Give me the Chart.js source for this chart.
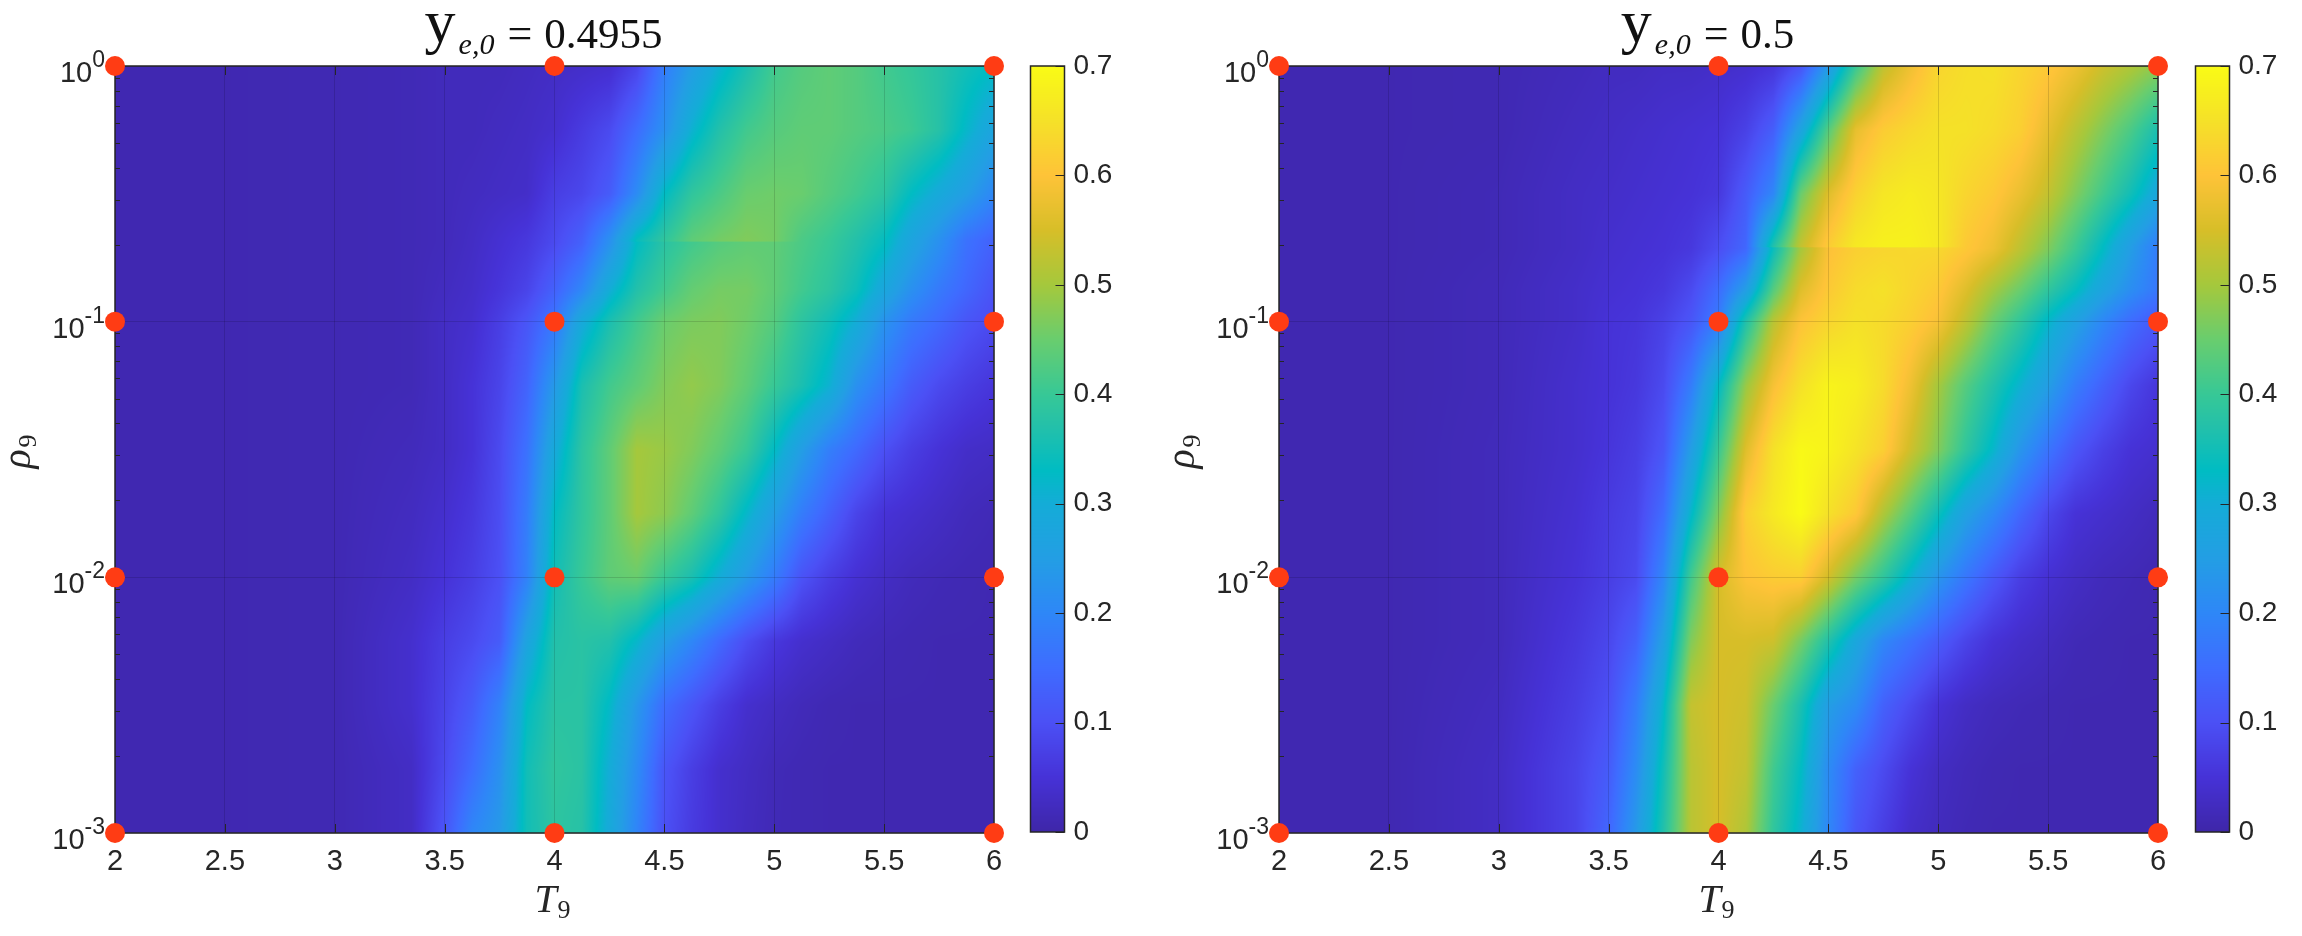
<!DOCTYPE html>
<html>
<head>
<meta charset="utf-8">
<title>T9 rho9 maps</title>
<script src="https://cdn.jsdelivr.net/npm/chart.js@4"></script>
<style>
  html, body { margin: 0; padding: 0; background: #fff; }
  canvas { position: absolute; top: 0; }
</style>
</head>
<body>
<canvas id="map-a" width="1020" height="936" style="left:0"></canvas>
<canvas id="bar-a" width="130" height="936" style="left:1020px"></canvas>
<canvas id="map-b" width="1030" height="936" style="left:1160px"></canvas>
<canvas id="bar-b" width="112" height="936" style="left:2190px"></canvas>
<script>
// Grid the maps were read on: T9 columns, log10(rho9) rows (bottom to top)
const tempCols = [2, 2.5, 3, 3.35, 3.5, 3.625, 3.75, 3.875, 4, 4.125, 4.25, 4.375, 4.5, 4.625, 4.75, 4.875, 5, 5.125, 5.25, 5.375, 5.5, 5.625, 5.75, 5.875, 6];
const logRhoRowsA = [-3, -2.75, -2.5, -2.25, -2, -1.75, -1.5, -1.25, -1, -0.875, -0.69, -0.684, -0.5, -0.25, 0];
const logRhoRowsB = [-3, -2.75, -2.5, -2.25, -2, -1.75, -1.5, -1.25, -1, -0.875, -0.712, -0.706, -0.5, -0.25, 0];

const heatA = [
  [.01,.01,.012,.03,.11,.2,.24,.35,.385,.375,.29,.195,.1,.065,.04,.025,.015,.012,.01,.01,.01,.01,.01,.01,.01],
  [.01,.01,.012,.03,.09,.15,.22,.35,.39,.38,.3,.21,.11,.07,.04,.028,.016,.012,.01,.01,.01,.01,.01,.01,.01],
  [.01,.01,.012,.04,.08,.12,.19,.33,.38,.38,.325,.235,.15,.11,.07,.04,.028,.018,.012,.01,.01,.01,.01,.01,.01],
  [.01,.01,.012,.04,.07,.09,.12,.27,.37,.38,.37,.32,.25,.2,.145,.095,.06,.04,.03,.02,.015,.012,.01,.01,.01],
  [.01,.01,.012,.03,.05,.07,.1,.19,.35,.4,.44,.45,.4,.36,.3,.24,.18,.105,.07,.045,.03,.02,.015,.012,.01],
  [.01,.01,.012,.025,.04,.06,.095,.18,.33,.39,.44,.5,.48,.44,.39,.32,.25,.18,.13,.08,.05,.04,.03,.02,.015],
  [.01,.01,.012,.02,.03,.05,.09,.16,.29,.385,.44,.5,.49,.47,.44,.4,.33,.25,.185,.145,.1,.07,.05,.035,.03],
  [.01,.01,.012,.015,.03,.05,.08,.135,.24,.36,.41,.44,.47,.485,.47,.44,.4,.36,.31,.22,.17,.12,.09,.07,.055],
  [.01,.01,.012,.015,.03,.04,.07,.11,.17,.29,.36,.41,.45,.465,.47,.455,.43,.385,.35,.3,.225,.175,.145,.11,.09],
  [.01,.01,.012,.015,.025,.035,.055,.08,.13,.2,.3,.37,.41,.445,.46,.46,.44,.41,.385,.345,.28,.22,.175,.14,.105],
  [.01,.01,.012,.015,.02,.03,.045,.06,.09,.13,.22,.33,.38,.41,.43,.44,.44,.42,.4,.37,.335,.27,.22,.16,.13],
  [.01,.01,.012,.015,.02,.03,.045,.06,.09,.13,.22,.34,.39,.44,.46,.47,.46,.42,.4,.37,.335,.27,.22,.16,.13],
  [.01,.01,.012,.015,.02,.025,.03,.035,.07,.085,.12,.21,.33,.39,.42,.45,.455,.45,.43,.41,.385,.33,.29,.25,.2],
  [.01,.01,.012,.015,.02,.02,.025,.03,.04,.065,.09,.15,.22,.31,.37,.41,.43,.44,.44,.43,.42,.405,.375,.32,.27],
  [.01,.01,.012,.015,.02,.02,.02,.025,.03,.035,.04,.08,.18,.25,.31,.36,.41,.43,.44,.43,.41,.395,.375,.35,.33]
];

const heatB = [
  [.01,.01,.03,.08,.14,.24,.37,.52,.55,.51,.39,.31,.2,.11,.07,.035,.022,.014,.01,.01,.01,.01,.01,.01,.01],
  [.01,.01,.03,.08,.12,.21,.35,.52,.55,.53,.41,.33,.21,.13,.09,.05,.028,.018,.012,.01,.01,.01,.01,.01,.01],
  [.01,.01,.025,.07,.1,.18,.32,.53,.55,.54,.45,.36,.25,.21,.13,.09,.05,.03,.02,.015,.012,.01,.01,.01,.01],
  [.01,.01,.02,.06,.085,.13,.26,.47,.55,.55,.54,.46,.37,.28,.2,.16,.12,.08,.05,.035,.025,.015,.012,.01,.01],
  [.01,.01,.02,.05,.07,.09,.2,.41,.55,.6,.615,.62,.545,.46,.39,.31,.23,.17,.115,.07,.045,.03,.02,.015,.01],
  [.01,.01,.02,.045,.065,.08,.15,.32,.47,.62,.665,.7,.65,.61,.51,.43,.345,.26,.205,.14,.085,.05,.04,.03,.02],
  [.01,.01,.02,.04,.055,.07,.11,.25,.4,.56,.65,.695,.685,.655,.62,.54,.47,.39,.32,.23,.165,.11,.075,.05,.04],
  [.01,.01,.018,.04,.05,.06,.09,.18,.33,.49,.59,.65,.685,.675,.64,.58,.5,.43,.37,.31,.25,.18,.13,.085,.055],
  [.01,.01,.018,.035,.05,.055,.075,.11,.18,.37,.52,.6,.63,.65,.64,.62,.59,.525,.45,.39,.32,.26,.2,.15,.115],
  [.01,.01,.018,.035,.045,.05,.06,.09,.15,.25,.43,.56,.61,.64,.65,.63,.61,.56,.5,.45,.39,.335,.27,.215,.17],
  [.01,.01,.015,.03,.04,.045,.05,.06,.095,.14,.34,.5,.595,.62,.63,.635,.635,.61,.58,.525,.47,.405,.33,.25,.18],
  [.01,.01,.015,.03,.04,.045,.05,.06,.095,.14,.37,.53,.615,.665,.68,.68,.665,.61,.58,.525,.47,.405,.33,.25,.18],
  [.01,.01,.015,.03,.035,.04,.045,.05,.06,.12,.2,.45,.56,.625,.66,.67,.66,.63,.61,.575,.53,.47,.41,.35,.28],
  [.01,.01,.012,.025,.03,.035,.04,.045,.05,.075,.125,.27,.43,.57,.615,.635,.65,.65,.64,.62,.57,.52,.47,.42,.36],
  [.01,.01,.012,.02,.025,.025,.03,.03,.035,.04,.055,.105,.24,.4,.525,.58,.63,.645,.65,.63,.61,.58,.54,.51,.48]
];

// Red markers
const markerTemps = [2, 4, 6];
const markerRhos = [1, 0.1, 0.01, 0.001];

// Tick labels
const xTickValues = [2, 2.5, 3, 3.5, 4, 4.5, 5, 5.5, 6];
const yMajorExponents = [-3, -2, -1, 0];
const barTickValues = [0, 0.1, 0.2, 0.3, 0.4, 0.5, 0.6, 0.7];

// parula
const cmapStops = [0, .05, .1, .15, .2, .25, .3, .33, .37, .4, .45, .5, .55, .6, .65, .7];
const cmapColors = [
  [62, 38, 168], [70, 50, 215], [75, 80, 245], [62, 108, 255], [46, 135, 247], [35, 158, 228],
  [20, 172, 215], [0, 188, 195], [35, 192, 170], [55, 200, 150], [105, 205, 110], [165, 200, 60],
  [215, 190, 40], [254, 195, 56], [245, 225, 40], [249, 251, 21]
];

const INK = '#262626';
const SANS = '"Liberation Sans", Arial, sans-serif';
const SERIF = '"Liberation Serif", "DejaVu Serif", serif';

function lookup(list, v) {
  let i = 0;
  while (i < list.length - 2 && v > list[i + 1]) i++;
  const t = Math.max(0, Math.min(1, (v - list[i]) / (list[i + 1] - list[i])));
  return [i, t];
}

function colorFor(v) {
  const [i, t] = lookup(cmapStops, v);
  return [0, 1, 2].map(k => cmapColors[i][k] + (cmapColors[i + 1][k] - cmapColors[i][k]) * t);
}

function heatValue(grid, rows, temp, logRho) {
  const [c, tc] = lookup(tempCols, temp);
  const [r, tr] = lookup(rows, logRho);
  const low = grid[r][c] * (1 - tc) + grid[r][c + 1] * tc;
  const high = grid[r + 1][c] * (1 - tc) + grid[r + 1][c + 1] * tc;
  return low * (1 - tr) + high * tr;
}

// Paints the map under the grid lines, going through the chart's own scales
const heatPlugin = {
  id: 'heat',
  beforeDraw(chart, args, opts) {
    const { left, top, width, height } = chart.chartArea;
    const w = Math.round(width), h = Math.round(height);
    const off = document.createElement('canvas');
    off.width = w; off.height = h;
    const octx = off.getContext('2d');
    const img = octx.createImageData(w, h);
    for (let py = 0; py < h; py++) {
      const logRho = Math.log10(chart.scales.y.getValueForPixel(top + py + 0.5));
      for (let px = 0; px < w; px++) {
        const temp = chart.scales.x.getValueForPixel(left + px + 0.5);
        const rgb = colorFor(heatValue(opts.grid, opts.rows, temp, logRho));
        const at = (py * w + px) * 4;
        img.data[at] = rgb[0]; img.data[at + 1] = rgb[1]; img.data[at + 2] = rgb[2]; img.data[at + 3] = 255;
      }
    }
    octx.putImageData(img, 0, 0);
    chart.ctx.drawImage(off, left, top, width, height);
  }
};

// Box, inward ticks and the 10^n labels
const framePlugin = {
  id: 'frame',
  beforeDatasetsDraw(chart) {
    const { ctx, chartArea: a, scales } = chart;
    ctx.save();
    ctx.strokeStyle = INK;
    ctx.lineWidth = 1;
    ctx.beginPath();
    scales.x.ticks.forEach(t => {
      const px = Math.round(scales.x.getPixelForValue(t.value)) + 0.5;
      ctx.moveTo(px, a.top); ctx.lineTo(px, a.top + 9);
      ctx.moveTo(px, a.bottom); ctx.lineTo(px, a.bottom - 9);
    });
    scales.y.ticks.forEach(t => {
      const py = Math.round(scales.y.getPixelForValue(t.value)) + 0.5;
      const len = t.major ? 9 : 5;
      ctx.moveTo(a.left, py); ctx.lineTo(a.left + len, py);
      ctx.moveTo(a.right, py); ctx.lineTo(a.right - len, py);
    });
    ctx.stroke();
    ctx.lineWidth = 1.5;
    ctx.strokeRect(a.left, a.top, a.width, a.height);

    ctx.fillStyle = INK;
    ctx.textBaseline = 'alphabetic';
    yMajorExponents.forEach(exp => {
      const py = scales.y.getPixelForValue(Math.pow(10, exp));
      const txt = String(exp);
      ctx.font = '23px ' + SANS;
      const ew = ctx.measureText(txt).width;
      const right = a.left - 10;
      ctx.textAlign = 'right';
      ctx.fillText(txt, right, py + 1);
      ctx.font = '29px ' + SANS;
      ctx.fillText('10', right - ew, py + 16);
    });
    ctx.restore();
  }
};

// Title and axis names have sub/superscripts, so they are set piece by piece
const textPlugin = {
  id: 'mathText',
  afterDraw(chart, args, opts) {
    const { ctx, chartArea: a } = chart;
    const cx = (a.left + a.right) / 2;
    ctx.save();
    ctx.fillStyle = '#111';
    ctx.textBaseline = 'alphabetic';
    ctx.textAlign = 'left';

    const parts = [
      { t: 'y', font: '62px ' + SERIF, dy: -6, gap: 3 },
      { t: 'e,0', font: 'italic 30px ' + SERIF, dy: 6, gap: 13 },
      { t: '=', font: '44px ' + SERIF, dy: 0, gap: 12 },
      { t: opts.value, font: '43px ' + SERIF, dy: 0, gap: 0 }
    ];
    let total = 0;
    parts.forEach(p => { ctx.font = p.font; p.w = ctx.measureText(p.t).width; total += p.w + p.gap; });
    let x = cx - 11 - total / 2;
    parts.forEach(p => {
      ctx.font = p.font;
      ctx.fillText(p.t, x, 48 + p.dy);
      x += p.w + p.gap;
    });

    ctx.fillStyle = INK;
    ctx.font = 'italic 40px ' + SERIF;
    ctx.fillText('T', cx - 20, 912);
    ctx.font = '26px ' + SERIF;
    ctx.fillText('9', cx + 3, 918);

    ctx.translate(a.left - 85, 453);
    ctx.rotate(-Math.PI / 2);
    ctx.textAlign = 'center';
    ctx.font = 'italic 40px ' + SERIF;
    ctx.fillText('ρ', -6, 0);
    ctx.font = '26px ' + SERIF;
    ctx.fillText('9', 12, 6);
    ctx.restore();
  }
};

function makeMap(id, grid, rows, titleValue, area) {
  const dots = [];
  markerTemps.forEach(t => markerRhos.forEach(r => dots.push({ x: t, y: r })));
  const yMajors = yMajorExponents.map(e => Math.pow(10, e));
  const canvas = document.getElementById(id);

  return new Chart(canvas, {
    type: 'scatter',
    data: {
      datasets: [{
        data: dots,
        backgroundColor: '#ff3c14',
        borderWidth: 0,
        pointRadius: 10,
        pointHoverRadius: 10,
        clip: false
      }]
    },
    options: {
      responsive: false,
      animation: false,
      events: [],
      layout: { padding: { left: area.left, top: area.top, right: canvas.width - area.right, bottom: 0 } },
      plugins: {
        legend: { display: false },
        tooltip: { enabled: false },
        heat: { grid: grid, rows: rows },
        mathText: { value: titleValue }
      },
      scales: {
        x: {
          type: 'linear', min: 2, max: 6,
          afterBuildTicks: s => { s.ticks = xTickValues.map(v => ({ value: v })); },
          afterFit: s => { s.height = canvas.height - area.bottom; },
          border: { display: false },
          grid: { color: 'rgba(0,0,0,0.13)', lineWidth: 1, drawTicks: false },
          ticks: { color: INK, font: { family: 'Liberation Sans', size: 29 }, padding: 12, maxRotation: 0, autoSkip: false, callback: v => String(v) }
        },
        y: {
          type: 'logarithmic', min: 0.001, max: 1,
          afterBuildTicks: s => {
            const ticks = [];
            yMajorExponents.forEach(e => {
              for (let m = 1; m < (e === 0 ? 2 : 10); m++) {
                ticks.push({ value: m * Math.pow(10, e), major: m === 1 });
              }
            });
            s.ticks = ticks;
          },
          afterFit: s => { s.width = 0; },
          border: { display: false },
          grid: {
            lineWidth: 1,
            drawTicks: false,
            color: c => (c.tick && yMajors.some(v => Math.abs(v - c.tick.value) < 1e-9)) ? 'rgba(0,0,0,0.13)' : 'rgba(0,0,0,0)'
          },
          ticks: { display: false }
        }
      }
    },
    plugins: [heatPlugin, framePlugin, textPlugin]
  });
}

function makeBar(id, area) {
  const canvas = document.getElementById(id);
  const barPlugin = {
    id: 'colorBar',
    beforeDraw(chart) {
      const { ctx, chartArea: a, scales } = chart;
      for (let py = Math.floor(a.top); py < a.bottom; py++) {
        const rgb = colorFor(scales.y.getValueForPixel(py + 0.5));
        ctx.fillStyle = 'rgb(' + rgb.map(Math.round).join(',') + ')';
        ctx.fillRect(a.left, py, a.width, 1);
      }
    },
    afterDraw(chart) {
      const { ctx, chartArea: a, scales } = chart;
      ctx.save();
      ctx.strokeStyle = INK;
      ctx.lineWidth = 1;
      ctx.beginPath();
      barTickValues.forEach(v => {
        const py = Math.round(scales.y.getPixelForValue(v)) + 0.5;
        ctx.moveTo(a.right, py); ctx.lineTo(a.right - 9, py);
      });
      ctx.stroke();
      ctx.lineWidth = 1.5;
      ctx.strokeRect(a.left, a.top, a.width, a.height);
      ctx.restore();
    }
  };
  return new Chart(canvas, {
    type: 'scatter',
    data: { datasets: [{ data: [] }] },
    options: {
      responsive: false,
      animation: false,
      events: [],
      layout: { padding: { left: area.left, top: area.top, right: 0, bottom: canvas.height - area.bottom } },
      plugins: { legend: { display: false }, tooltip: { enabled: false } },
      scales: {
        x: { display: false, min: 0, max: 1 },
        y: {
          position: 'right', min: 0, max: 0.7,
          afterBuildTicks: s => { s.ticks = barTickValues.map(v => ({ value: v })); },
          afterFit: s => { s.width = canvas.width - area.right; },
          border: { display: false },
          grid: { display: false, drawTicks: false },
          ticks: { color: INK, font: { family: 'Liberation Sans', size: 28 }, padding: 9, autoSkip: false, callback: v => String(v) }
        }
      }
    },
    plugins: [barPlugin]
  });
}

makeMap('map-a', heatA, logRhoRowsA, '0.4955', { left: 115, top: 66, right: 994, bottom: 833 });
makeBar('bar-a', { left: 10.5, top: 66, right: 44.5, bottom: 832 });
makeMap('map-b', heatB, logRhoRowsB, '0.5', { left: 119, top: 66, right: 998, bottom: 833 });
makeBar('bar-b', { left: 5.5, top: 66, right: 39.5, bottom: 832 });
</script>
</body>
</html>
